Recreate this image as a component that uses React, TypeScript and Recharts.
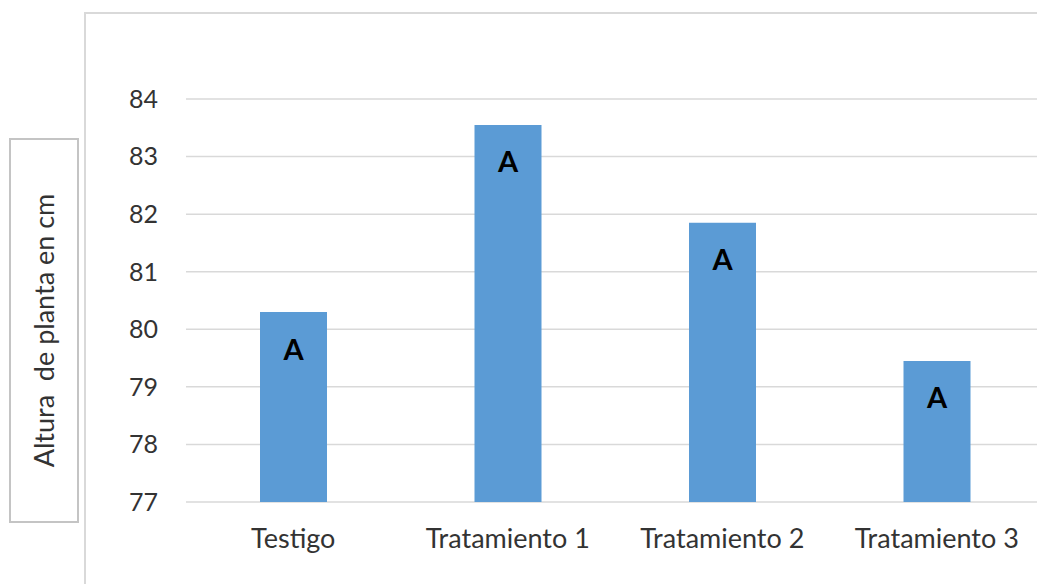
import { Bar, BarChart, CartesianGrid, LabelList, XAxis, YAxis } from 'recharts'

const categories = ['Testigo', 'Tratamiento 1', 'Tratamiento 2', 'Tratamiento 3']
const heights = [80.3, 83.55, 81.85, 79.45]
const groups = ['A', 'A', 'A', 'A']
const yTicks = [77, 78, 79, 80, 81, 82, 83, 84]

const data = categories.map((name, i) => ({ name, altura: heights[i], grupo: groups[i] }))

const font = 'Lato, "Open Sans", sans-serif'
const textColor = '#333333'
const lineColor = '#d9d9d9'
const barColor = '#5b9bd5'

function GroupLabel(props: any) {
  const { x, y, width, value } = props
  return (
    <text
      x={Number(x) + Number(width) / 2}
      y={Number(y) + 36}
      textAnchor="middle"
      dominantBaseline="central"
      fontFamily={font}
      fontWeight={700}
      fontSize={29}
      fill="#000"
    >
      {value}
    </text>
  )
}

export default function App() {
  return (
    <div
      style={{
        position: 'absolute',
        left: 0,
        top: 0,
        width: 1037,
        height: 584,
        overflow: 'hidden',
        background: '#fff',
        fontFamily: font,
      }}
    >
      {/* chart frame, only left and top edges show */}
      <div
        style={{
          position: 'absolute',
          left: 84,
          top: 12,
          width: 1000,
          height: 700,
          borderLeft: `2px solid ${lineColor}`,
          borderTop: `2px solid ${lineColor}`,
        }}
      />
      {/* boxed y axis title */}
      <div
        style={{
          position: 'absolute',
          left: 9,
          top: 138,
          width: 66,
          height: 381,
          border: '2px solid #c4c4c4',
          display: 'flex',
          alignItems: 'center',
          justifyContent: 'center',
        }}
      >
        <div
          style={{
            transform: 'rotate(-90deg)',
            whiteSpace: 'pre',
            fontSize: 27,
            color: textColor,
          }}
        >
          {'Altura  de planta en cm'}
        </div>
      </div>
      <div style={{ position: 'absolute', left: 0, top: 0 }}>
        <BarChart
          width={1044}
          height={584}
          data={data}
          margin={{ top: 99, right: 0, left: 0, bottom: 0 }}
        >
          <CartesianGrid stroke={lineColor} strokeWidth={1.5} vertical={false} />
          <XAxis
            dataKey="name"
            axisLine={false}
            tickLine={false}
            tickSize={6}
            tickMargin={21}
            height={82}
            interval={0}
            tick={{ fill: textColor, fontSize: 27, fontFamily: font }}
          />
          <YAxis
            domain={[77, 84]}
            ticks={yTicks}
            axisLine={false}
            tickLine={false}
            tickSize={6}
            tickMargin={22}
            width={186}
            tick={{ fill: textColor, fontSize: 25, fontFamily: font }}
          />
          <Bar dataKey="altura" fill={barColor} barSize={67} isAnimationActive={false}>
            <LabelList dataKey="grupo" content={GroupLabel} />
          </Bar>
        </BarChart>
      </div>
    </div>
  )
}
